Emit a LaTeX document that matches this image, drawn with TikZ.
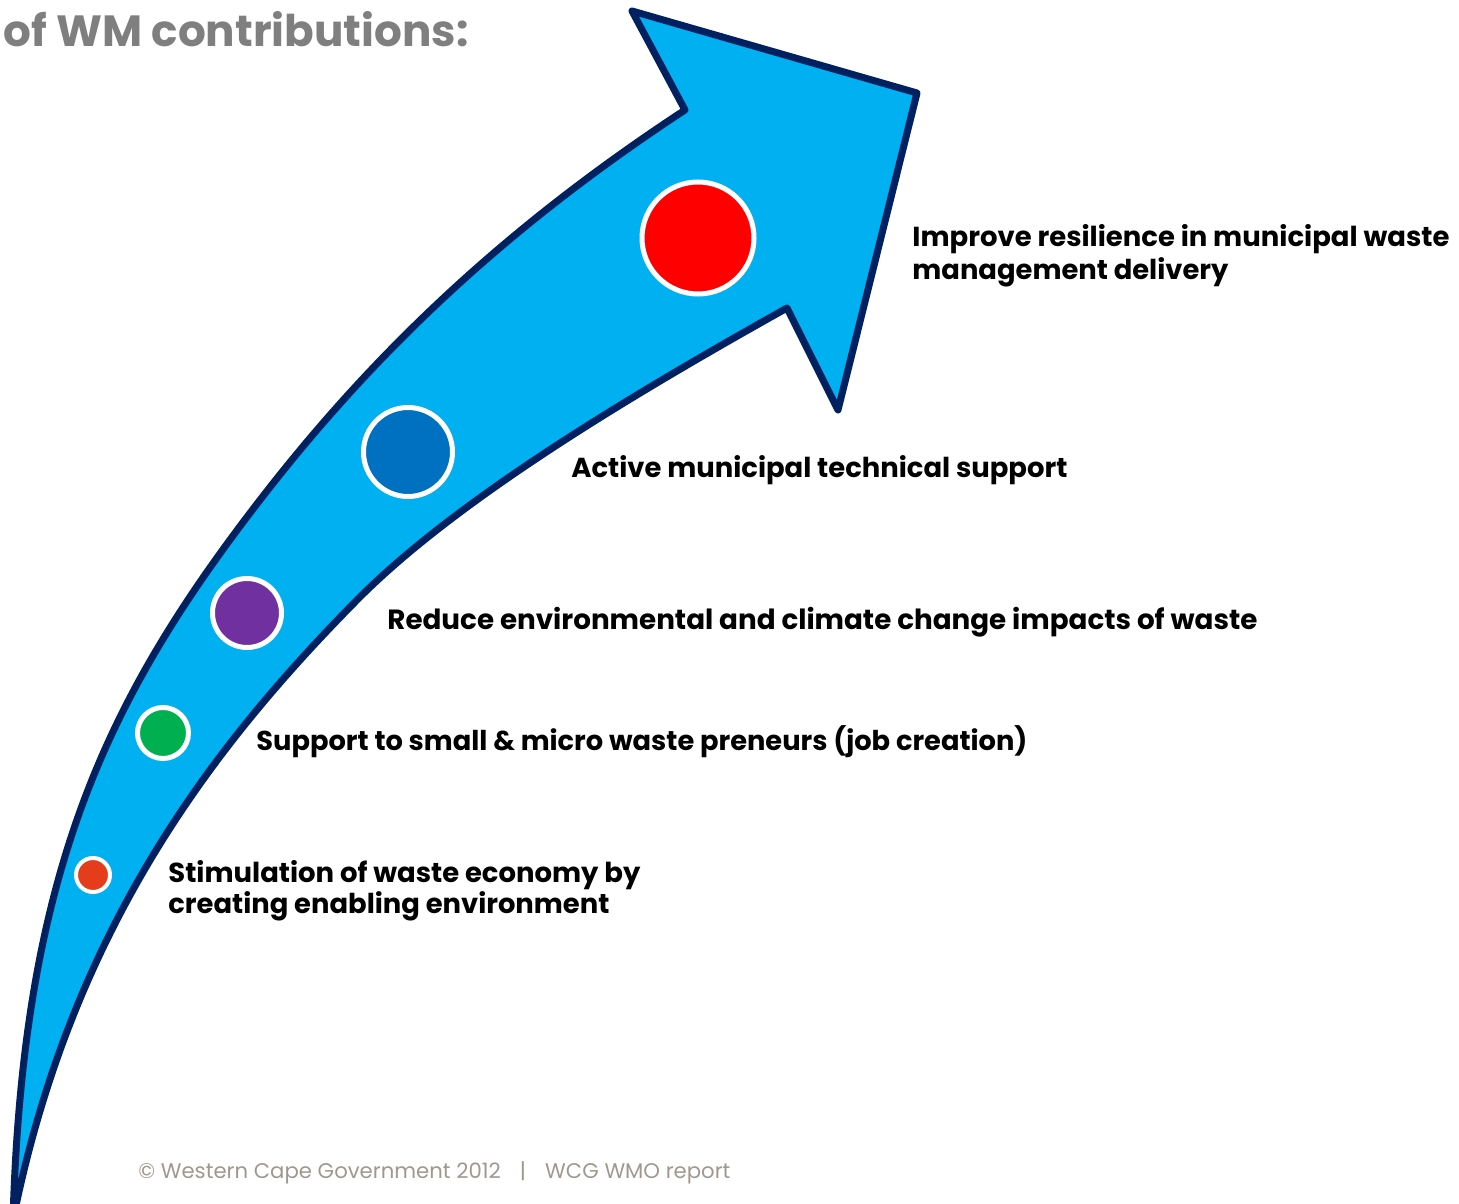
\documentclass[tikz,border=0pt]{standalone}
\usepackage{fontspec}
\setmainfont{Poppins}
\usepackage{graphicx}
\definecolor{arrowfill}{HTML}{00B0F0}
\definecolor{navy}{HTML}{002060}
\definecolor{dotred}{HTML}{FF0000}
\definecolor{dotblue}{HTML}{0070C0}
\definecolor{dotpurple}{HTML}{7030A0}
\definecolor{dotgreen}{HTML}{00B050}
\definecolor{dotorange}{HTML}{E53D1C}
\definecolor{titlegray}{HTML}{7F7F7F}
\definecolor{footgray}{HTML}{A09890}
\newlength\pxu
\setlength\pxu{0.5pt}
\newcommand\fitpx[2]{\resizebox{#1\pxu}{!}{#2}}
\tikzset{
  dot/.style={circle, draw=white, line width=2.5pt, inner sep=0pt},
  lbl/.style={anchor=base west, inner sep=0pt, font=\bfseries, text=black},
}
\begin{document}
\begin{tikzpicture}[x=0.5pt,y=-0.5pt]
\useasboundingbox (0,0) rectangle (1459,1203);
\begin{scope}
\clip (0,0) rectangle (1459,1203);
\filldraw[fill=arrowfill, draw=navy, line width=3.5pt, line join=round]
  (13,1220) .. controls (23,870) and (107.5,697.5) .. (260,500)
  .. controls (382,342) and (517.8,219.6) .. (685,110)
  -- (632,11) -- (917,93) -- (838,410) -- (787,308)
  .. controls (656,381.5) and (462.5,493.2) .. (357,600)
  .. controls (216.4,742.4) and (71.8,926) .. (13,1220)
  -- cycle;
\end{scope}
\node[dot, fill=dotred,    minimum size=56pt]   (d5) at (698,238) {};
\node[dot, fill=dotblue,   minimum size=44.5pt] (d4) at (408,452) {};
\node[dot, fill=dotpurple, minimum size=34.5pt] (d3) at (247,613) {};
\node[dot, fill=dotgreen,  minimum size=25.5pt] (d2) at (163,733) {};
\node[dot, fill=dotorange, minimum size=17pt, line width=2pt] (d1) at (93,875) {};
\node[lbl, text=titlegray] (title) at (3,47) {\fitpx{465}{\bfseries of WM contributions:}};
\node[lbl] (t5a) at (912,247) {\fitpx{537}{\bfseries Improve resilience in municipal waste}};
\node[lbl] (t5b) at (912,279) {\fitpx{316}{\bfseries management delivery}};
\node[lbl] (t4) at (571,477) {\fitpx{496}{\bfseries Active municipal technical support}};
\node[lbl] (t3) at (387,629) {\fitpx{870}{\bfseries Reduce environmental and climate change impacts of waste}};
\node[lbl] (t2) at (256,750) {\fitpx{771}{\bfseries Support to small \& micro waste preneurs (job creation)}};
\node[lbl] (t1a) at (168,882) {\fitpx{472}{\bfseries Stimulation of waste economy by}};
\node[lbl] (t1b) at (168,913) {\fitpx{441}{\bfseries creating enabling environment}};
\node[anchor=base west, inner sep=0pt, text=footgray] (foot) at (138,1178) {\fitpx{592}{\mdseries \textcopyright{} Western Cape Government 2012\hspace{0.9em}|\hspace{0.9em}WCG WMO report}};
\end{tikzpicture}
\end{document}
